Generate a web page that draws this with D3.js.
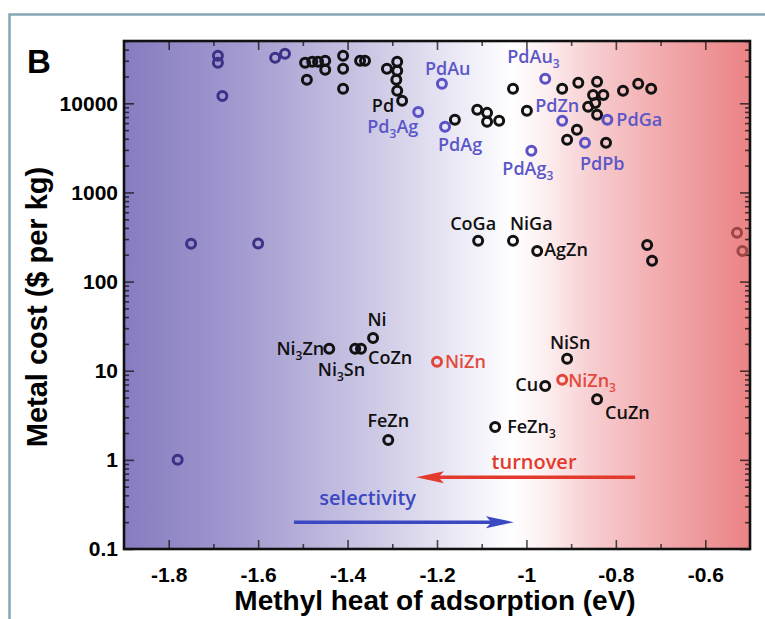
<!DOCTYPE html>
<html><head><meta charset="utf-8">
<script src="https://cdn.jsdelivr.net/npm/d3@7"></script>
<style>body{margin:0;background:#fff;}</style>
</head><body>
<svg id="chart" width="765" height="619"></svg>
<script>
// ---------- data ----------
const pointNames = [
  "","","","","","","","",
  "","","","","","","","","","","","","","","","",
  "Pd","Pd3Ag","PdAu","","PdAg","","","","","","","PdAu3",
  "","","","","","","","","","","","PdGa","PdZn","","","PdPb","","PdAg3",
  "CoGa","NiGa","AgZn","","","","",
  "Ni","Ni3Zn","Ni3Sn","CoZn","NiZn","NiSn","Cu","NiZn3","CuZn","FeZn","FeZn3"
];
const heatEV = [
  -1.78,-1.75,-1.60,-1.69,-1.69,-1.68,-1.562,-1.540,
  -1.495,-1.479,-1.466,-1.450,-1.450,-1.491,-1.410,-1.410,-1.410,-1.372,-1.361,-1.312,-1.289,-1.289,-1.291,-1.289,
  -1.278,-1.242,-1.189,-1.160,-1.182,-1.110,-1.088,-1.088,-1.061,-1.030,-0.999,-0.958,
  -0.920,-0.884,-0.842,-0.784,-0.750,-0.721,-0.851,-0.828,-0.862,-0.846,-0.842,-0.819,-0.920,-0.887,-0.909,-0.869,-0.822,-0.989,
  -1.108,-1.030,-0.976,-0.730,-0.719,-0.529,-0.517,
  -1.343,-1.441,-1.383,-1.370,-1.200,-0.909,-0.958,-0.920,-0.842,-1.309,-1.070
];
const costUSD = [
  1.0,265,268,34100,28500,12100,32400,36000,
  28500,29200,29200,30000,23800,18400,34100,24400,14600,30000,30000,24400,29200,23200,18400,13800,
  10700,8000,16600,6530,5450,8450,7810,6200,6370,14600,8240,18800,
  14600,17000,17400,13800,16600,14600,12400,12400,9140,10100,7430,6530,6370,5050,3890,3600,3600,2930,
  287,287,221,258,171,352,221,
  23.3,17.6,17.6,17.6,12.6,13.6,6.75,7.9,4.8,1.67,2.34
];
const pointGroup = [
  "purple","purple","purple","purple","purple","purple","purple","purple",
  "black","black","black","black","black","black","black","black","black","black","black","black","black","black","black","black",
  "black","blue","blue","black","blue","black","black","black","black","black","black","blue",
  "black","black","black","black","black","black","black","black","black","black","black","blue","blue","black","black","blue","black","blue",
  "black","black","black","black","black","edge","edge",
  "black","black","black","black","red","black","black","red","black","black","black"
];
const xTickValues = [-1.8,-1.6,-1.4,-1.2,-1,-0.8,-0.6];
const xTickLabels = ["-1.8","-1.6","-1.4","-1.2","-1","-0.8","-0.6"];
const yTickValues = [0.1,1,10,100,1000,10000];
const yTickLabels = ["0.1","1","10","100","1000","10000"];
const xTitle = "Methyl heat of adsorption (eV)";
const yTitle = "Metal cost ($ per kg)";
const panelLetter = "B";
const arrowNotes = [
  {text:"turnover",    from:-0.757, to:-1.247, at:0.64, textX:-0.983, textAt:0.78, color:"#e23b2e"},
  {text:"selectivity", from:-1.520, to:-1.028, at:0.20, textX:-1.355, textAt:0.31, color:"#3b48c2"}
];

// ---------- layout / style ----------
const L=124, R=750, T=41, B=549;
const groupStroke = {purple:"#3a3286", black:"#121212", blue:"#5a52c6", red:"#e2463a", edge:"#9c4646"};
const labelColor = {purple:"#3a3286", black:"#111", blue:"#5b57c8", red:"#e34b3d", edge:"#111"};
const labelPlace = {
  "Pd":["end",-8,11], "Pd3Ag":["start",-51,21], "PdAu":["start",-17,-9], "PdAg":["start",-7,24],
  "PdAu3":["start",-38,-16], "PdZn":["start",-27,-9], "PdGa":["start",9,6], "PdAg3":["start",-29,24],
  "PdPb":["start",-5,27], "CoGa":["middle",-5,-11], "NiGa":["start",-3,-11], "AgZn":["start",7,5],
  "Ni":["middle",4,-12], "Ni3Zn":["end",-5,6], "Ni3Sn":["end",10,27], "CoZn":["start",7,15],
  "NiZn":["start",8,6], "NiSn":["middle",3,-10], "Cu":["end",-7,5], "NiZn3":["start",6,7],
  "CuZn":["start",8,20], "FeZn":["middle",0,-13], "FeZn3":["start",12,6]
};

const svg = d3.select("#chart");
const x = d3.scaleLinear().domain([-1.9,-0.5]).range([L,R]);
const y = d3.scaleLog().domain([0.1,50000]).range([B,T]);

// background gradient
const defs = svg.append("defs");
const grad = defs.append("linearGradient").attr("id","bg").attr("x1","0").attr("x2","1").attr("y1","0").attr("y2","0");
[[0,"#867cc0"],[0.18,"#a199cf"],[0.4,"#cdc9e5"],[0.55,"#efeef8"],[0.62,"#ffffff"],[0.67,"#fdf0f1"],
 [0.75,"#f7cdd0"],[0.88,"#f1a4a7"],[1,"#ea8386"]].forEach(s=>{
  grad.append("stop").attr("offset",s[0]).attr("stop-color",s[1]);
});
svg.append("rect").attr("x",L).attr("y",T).attr("width",R-L).attr("height",B-T).attr("fill","url(#bg)");

// outer frame
svg.append("path").attr("d",`M9.5,619 V14.5 H765`).attr("fill","none").attr("stroke","#85a6b5").attr("stroke-width",2.5);

// axes
const fontAxis = "'Liberation Sans', Arial, sans-serif";
const xMinor = d3.range(-1.7,-0.55,0.2).map(v=>+v.toFixed(2));
const yMinor = [];
for (let d=-1; d<5; d++) for (let m=2;m<10;m++){ const v=m*Math.pow(10,d); if (v<=50000) yMinor.push(v); }

function styleAxis(g){
  g.select(".domain").remove();
  g.selectAll(".tick line").attr("stroke","#111").attr("stroke-opacity",0.75).attr("stroke-width",1.6);
  g.selectAll("text").attr("font-family",fontAxis).attr("font-weight","bold").attr("font-size",21).attr("fill","#000");
}
const xAxisB = d3.axisBottom(x).tickValues(xTickValues).tickFormat((d,i)=>xTickLabels[i]).tickSizeInner(-9).tickSizeOuter(0).tickPadding(18);
svg.append("g").attr("transform",`translate(0,${B})`).call(xAxisB).call(styleAxis);
svg.append("g").attr("transform",`translate(0,${B})`).call(d3.axisBottom(x).tickValues(xMinor).tickFormat("").tickSizeInner(-5).tickSizeOuter(0)).call(styleAxis);
svg.append("g").attr("transform",`translate(0,${T})`).call(d3.axisTop(x).tickValues(xTickValues).tickFormat("").tickSizeInner(-9).tickSizeOuter(0)).call(styleAxis);
svg.append("g").attr("transform",`translate(0,${T})`).call(d3.axisTop(x).tickValues(xMinor).tickFormat("").tickSizeInner(-5).tickSizeOuter(0)).call(styleAxis);

const yAxisL = d3.axisLeft(y).tickValues(yTickValues).tickFormat((d,i)=>yTickLabels[i]).tickSizeInner(-10).tickSizeOuter(0).tickPadding(6);
svg.append("g").attr("transform",`translate(${L},0)`).call(yAxisL).call(styleAxis);
svg.append("g").attr("transform",`translate(${L},0)`).call(d3.axisLeft(y).tickValues(yMinor).tickFormat("").tickSizeInner(-5).tickSizeOuter(0)).call(styleAxis);
svg.append("g").attr("transform",`translate(${R},0)`).call(d3.axisRight(y).tickValues(yTickValues).tickFormat("").tickSizeInner(-10).tickSizeOuter(0)).call(styleAxis);
svg.append("g").attr("transform",`translate(${R},0)`).call(d3.axisRight(y).tickValues(yMinor).tickFormat("").tickSizeInner(-5).tickSizeOuter(0)).call(styleAxis);

// plot frame
svg.append("rect").attr("x",L).attr("y",T).attr("width",R-L).attr("height",B-T)
  .attr("fill","none").attr("stroke","#111").attr("stroke-width",2.6);

// titles
svg.append("text").attr("x",(L+R)/2 - 2).attr("y",610).attr("text-anchor","middle")
  .attr("font-family",fontAxis).attr("font-weight","bold").attr("font-size",28).text(xTitle);
svg.append("text").attr("transform",`translate(47,${(T+B)/2 + 12}) rotate(-90)`).attr("text-anchor","middle")
  .attr("font-family",fontAxis).attr("font-weight","bold").attr("font-size",29).text(yTitle);
svg.append("text").attr("x",27).attr("y",73).attr("font-family",fontAxis).attr("font-weight","bold")
  .attr("font-size",33).text(panelLetter);

// points
const pts = pointNames.map((n,i)=>({name:n, xv:heatEV[i], yv:costUSD[i], g:pointGroup[i]}));
svg.append("g").selectAll("circle").data(pts).join("circle")
  .attr("cx",d=>x(d.xv)).attr("cy",d=>y(d.yv)).attr("r",4.5)
  .attr("fill","none").attr("stroke",d=>groupStroke[d.g]).attr("stroke-width",3);

// labels with subscripts
const labFont = "'Open Sans', 'DejaVu Sans', sans-serif";
function writeLabel(t, s){
  const parts = s.split(/(\d+)/).filter(p=>p.length);
  let sub=false;
  parts.forEach(p=>{
    const isNum = /^\d+$/.test(p);
    const ts = t.append("tspan").text(p);
    if (isNum){ ts.attr("font-size",12).attr("dy",5); sub=true; }
    else if (sub){ ts.attr("dy",-5); sub=false; }
  });
}
const lg = svg.append("g");
pts.filter(d=>d.name).forEach(d=>{
  const p = labelPlace[d.name];
  const t = lg.append("text").attr("x",x(d.xv)+p[1]).attr("y",y(d.yv)+p[2])
    .attr("text-anchor",p[0]).attr("font-family",labFont).attr("font-weight",600)
    .attr("font-size",18).attr("fill",labelColor[d.g]);
  writeLabel(t,d.name);
});

// arrows
arrowNotes.forEach(a=>{
  const yy = y(a.at), x0 = x(a.from), x1 = x(a.to);
  const dir = Math.sign(x1-x0), hl = 28, hw = 6;
  svg.append("line").attr("x1",x0).attr("x2",x1-dir*hl*0.7).attr("y1",yy).attr("y2",yy)
    .attr("stroke",a.color).attr("stroke-width",3.5);
  svg.append("path").attr("d",`M${x1},${yy} L${x1-dir*hl},${yy-hw} L${x1-dir*hl*0.8},${yy} L${x1-dir*hl},${yy+hw} Z`)
    .attr("fill",a.color);
  svg.append("text").attr("x",x(a.textX)).attr("y",y(a.textAt)).attr("text-anchor","middle")
    .attr("font-family",labFont).attr("font-weight",600).attr("font-size",20).attr("fill",a.color).text(a.text);
});
</script>
</body></html>
